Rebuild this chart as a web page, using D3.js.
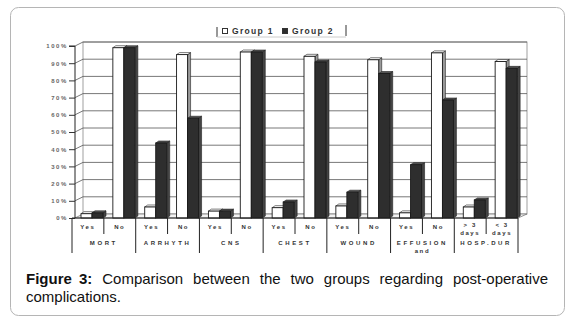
<!DOCTYPE html>
<html>
<head>
<meta charset="utf-8">
<script src="https://cdn.jsdelivr.net/npm/d3@7"></script>
<style>
  body { margin: 0; background: #fff; }
  svg { display: block; font-family: "Liberation Sans", Arial, sans-serif; }
</style>
</head>
<body>
<svg id="chart" width="581" height="323"></svg>
<script>
// chart data
const groups = ["MORT", "ARRHYTH", "CNS", "CHEST", "WOUND", "EFFUSION", "HOSP.DUR"];
const groupSub = ["", "", "", "", "", "and", ""];
const subLabels = ["Yes", "No", "Yes", "No", "Yes", "No", "Yes", "No", "Yes", "No", "Yes", "No", "> 3|days", "< 3|days"];
const group1 = [2.5, 99, 6.4, 95, 4, 96.5, 6, 94, 7, 92, 3, 96, 6.4, 91];
const group2 = [3, 99, 43.6, 58, 4, 96.5, 9.3, 90.7, 15, 84, 31, 68.6, 10.5, 87];
const yTicks = [0, 10, 20, 30, 40, 50, 60, 70, 80, 90, 100];
const seriesNames = ["Group 1", "Group 2"];
const caption1 = "Comparison between the two groups regarding post-operative";
const caption2 = "complications.";

const svg = d3.select("#chart");
const depth = { dx: 8, dy: -4 };

// outer frame
svg.append("rect")
  .attr("x", 10.5).attr("y", 7.5)
  .attr("width", 554).attr("height", 308)
  .attr("rx", 8)
  .attr("fill", "#fff")
  .attr("stroke", "#b5b5b5");

const x = d3.scaleBand().domain(d3.range(subLabels.length)).range([72, 518]);
const xIn = d3.scaleBand().domain([0, 1]).range([9, 31]);
const y = d3.scaleLinear().domain([0, 100]).range([218, 46]);

const chart = svg.append("g");

// back wall
const wallL = 75 + depth.dx, wallR = 518 + depth.dx + 1;
chart.append("rect")
  .attr("x", wallL).attr("y", y(100) + depth.dy)
  .attr("width", wallR - wallL).attr("height", y(0) - y(100))
  .attr("fill", "#fff").attr("stroke", "#888").attr("stroke-width", 0.8);

// gridlines with the little perspective bend at the axis
chart.append("g").selectAll("path")
  .data(yTicks.filter(d => d > 0))
  .join("path")
  .attr("d", d => `M75,${y(d)}L${wallL},${y(d) + depth.dy}L${wallR},${y(d) + depth.dy}`)
  .attr("fill", "none")
  .attr("stroke", "#555")
  .attr("stroke-width", 0.8);

// floor
chart.append("path")
  .attr("d", `M75,${y(0)}L${wallL},${y(0) + depth.dy}L${wallR},${y(0) + depth.dy}L518,${y(0)}Z`)
  .attr("fill", "#f2f2f2").attr("stroke", "#777").attr("stroke-width", 0.8);

// y axis
const yAxis = d3.axisLeft(y)
  .tickValues(yTicks)
  .tickSize(6)
  .tickFormat(d => d + "%");
const yAxisG = chart.append("g")
  .attr("transform", "translate(75,0)")
  .call(yAxis);
yAxisG.select(".domain").attr("stroke", "#222").attr("d", `M-6,${y(100)}H0V${y(0)}`);
yAxisG.selectAll(".tick line").attr("stroke", "#333");
yAxisG.selectAll(".tick text")
  .attr("font-size", 6)
  .attr("font-weight", "bold")
  .attr("letter-spacing", 1.6)
  .attr("fill", "#666")
  .attr("x", -7);

// 3d bars
function drawBars(values, s) {
  const w = xIn.bandwidth();
  const g = chart.append("g");
  values.forEach((v, i) => {
    const bx = x(i) + xIn(s);
    const top = y(v), base = y(0);
    const d = 3, e = -2;
    g.append("path")
      .attr("d", `M${bx + w},${top}L${bx + w + d},${top + e}L${bx + w + d},${base + e}L${bx + w},${base}Z`)
      .attr("fill", s === 0 ? "#9a9a9a" : "#444")
      .attr("stroke", "#222").attr("stroke-width", 0.6);
    g.append("path")
      .attr("d", `M${bx},${top}L${bx + d},${top + e}L${bx + w + d},${top + e}L${bx + w},${top}Z`)
      .attr("fill", s === 0 ? "#fff" : "#555")
      .attr("stroke", "#222").attr("stroke-width", 0.6);
    g.append("rect")
      .attr("x", bx).attr("y", top)
      .attr("width", w).attr("height", base - top)
      .attr("fill", s === 0 ? "#fff" : "#2e2e2e")
      .attr("stroke", "#1a1a1a").attr("stroke-width", 0.9);
  });
}
drawBars(group1, 0);
drawBars(group2, 1);

// category table under the floor
const table = chart.append("g").attr("stroke", "#222").attr("stroke-width", 1);
table.append("line").attr("x1", 72).attr("x2", 518).attr("y1", 218).attr("y2", 218);
d3.range(subLabels.length + 1).forEach(i => {
  const xx = i < subLabels.length ? x(i) : x.range()[1];
  table.append("line")
    .attr("x1", xx).attr("x2", xx)
    .attr("y1", 218).attr("y2", i % 2 === 0 ? 253 : 234);
});

const lab = chart.append("g")
  .attr("fill", "#333")
  .attr("font-size", 6)
  .attr("font-weight", "bold")
  .attr("letter-spacing", 1.6)
  .attr("text-anchor", "middle");

subLabels.forEach((t, i) => {
  const parts = t.split("|");
  parts.forEach((p, j) => {
    lab.append("text")
      .attr("x", x(i) + x.bandwidth() / 2)
      .attr("y", parts.length > 1 ? 227 + j * 8 : 229)
      .text(p);
  });
});

groups.forEach((gname, k) => {
  const cx = x(k * 2) + x.bandwidth();
  lab.append("text").attr("x", cx).attr("y", 245).attr("letter-spacing", 2.6).text(gname);
  if (groupSub[k]) {
    lab.append("text").attr("x", cx).attr("y", 253).text(groupSub[k]);
  }
});

// legend
const leg = svg.append("g").attr("transform", "translate(217,25)");
leg.append("line").attr("x1", 0).attr("x2", 0).attr("y1", 2).attr("y2", 12).attr("stroke", "#333");
leg.append("line").attr("x1", 0).attr("x2", 129).attr("y1", 12).attr("y2", 12).attr("stroke", "#ccc");
leg.append("line").attr("x1", 129).attr("x2", 129).attr("y1", 0).attr("y2", 11).attr("stroke", "#333");
const legX = [5, 65];
seriesNames.forEach((n, i) => {
  leg.append("rect")
    .attr("x", legX[i] + 0.5).attr("y", 3.5)
    .attr("width", 5).attr("height", 5)
    .attr("fill", i === 0 ? "#fff" : "#2e2e2e")
    .attr("stroke", "#333");
  leg.append("text")
    .attr("x", legX[i] + 10).attr("y", 9)
    .attr("font-size", 8.5).attr("font-weight", "bold")
    .attr("letter-spacing", 1.3)
    .attr("fill", "#333")
    .text(n);
});

// caption, first line justified
const cap = svg.append("g").attr("font-size", 15).attr("fill", "#111");
const words = [{ t: "Figure 3:", bold: true }].concat(caption1.split(" ").map(t => ({ t, bold: false })));
const nodes = words.map(w => cap.append("text")
  .attr("y", 284)
  .attr("font-weight", w.bold ? "bold" : "normal")
  .attr("word-spacing", w.bold ? 3 : 0)
  .text(w.t));
const widths = nodes.map(n => n.node().getComputedTextLength());
const left = 26, right = 548;
const gap = (right - left - d3.sum(widths)) / (nodes.length - 1);
let cx = left;
nodes.forEach((n, i) => { n.attr("x", cx); cx += widths[i] + gap; });
cap.append("text").attr("x", left).attr("y", 302).text(caption2);
</script>
</body>
</html>
